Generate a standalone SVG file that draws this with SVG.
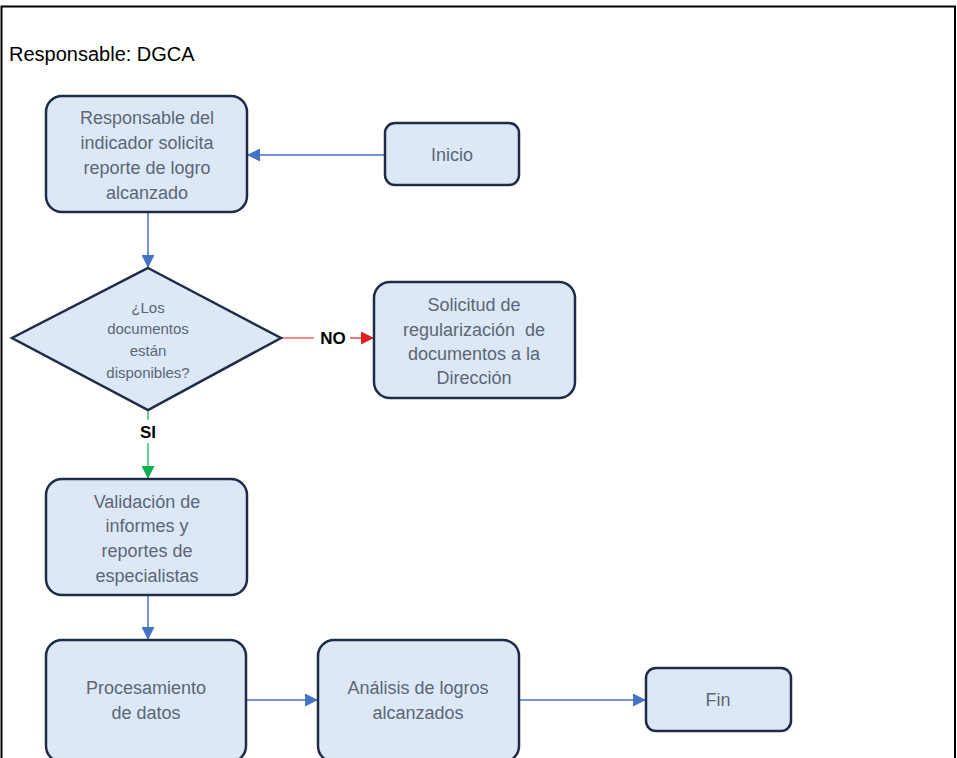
<svg xmlns="http://www.w3.org/2000/svg" width="957" height="758" viewBox="0 0 957 758">
<defs>
<style>
.box{fill:#dce8f5;stroke:#1e2c48;stroke-width:2.5}
.t{font-family:"Liberation Sans",Arial,sans-serif;font-size:18px;fill:#5b6677;text-anchor:middle;dominant-baseline:central}
.ts{font-family:"Liberation Sans",Arial,sans-serif;font-size:15px;fill:#5b6677;text-anchor:middle;dominant-baseline:central}
.lbl{font-family:"Liberation Sans",Arial,sans-serif;font-size:17px;font-weight:bold;fill:#000;text-anchor:middle;dominant-baseline:central}
.blue{stroke:#4472c4;stroke-width:1.5;fill:none}
</style>
<marker id="ab" markerWidth="13" markerHeight="13" refX="12" refY="6.5" orient="auto" markerUnits="userSpaceOnUse"><path d="M0,0 L13,6.5 L0,13 z" fill="#4472c4"/></marker>
<marker id="ar" markerWidth="13" markerHeight="13" refX="12" refY="6.5" orient="auto" markerUnits="userSpaceOnUse"><path d="M0,0 L13,6.5 L0,13 z" fill="#e02020"/></marker>
<marker id="ag" markerWidth="13" markerHeight="13" refX="12" refY="6.5" orient="auto" markerUnits="userSpaceOnUse"><path d="M0,0 L13,6.5 L0,13 z" fill="#10b050"/></marker>
</defs>
<rect x="0" y="0" width="957" height="758" fill="#fff"/>
<path d="M1.5,760 V6.5 H955 V760" fill="none" stroke="#000" stroke-width="2"/>
<text x="9" y="54" font-family="Liberation Sans,Arial,sans-serif" font-size="20" fill="#000" dominant-baseline="central">Responsable: DGCA</text>

<g id="connectors">
<line class="blue" x1="385" y1="155" x2="248" y2="155" marker-end="url(#ab)"/>
<line class="blue" x1="148" y1="212" x2="148" y2="267" marker-end="url(#ab)"/>
<line x1="281" y1="338" x2="314" y2="338" stroke="#e02020" stroke-width="1.2"/>
<line x1="350" y1="338" x2="373" y2="338" stroke="#e02020" stroke-width="1.2" marker-end="url(#ar)"/>
<text class="lbl" x="333" y="338">NO</text>
<line x1="148" y1="410" x2="148" y2="420" stroke="#10b050" stroke-width="1.2"/>
<line x1="148" y1="443" x2="148" y2="478" stroke="#10b050" stroke-width="1.2" marker-end="url(#ag)"/>
<text class="lbl" x="148" y="432">SI</text>
<line class="blue" x1="148" y1="595" x2="148" y2="639" marker-end="url(#ab)"/>
<line class="blue" x1="246" y1="700" x2="317" y2="700" marker-end="url(#ab)"/>
<line class="blue" x1="519" y1="700" x2="645" y2="700" marker-end="url(#ab)"/>
</g>

<g id="n1">
<rect class="box" x="46" y="96" width="201" height="116" rx="16"/>
<text class="t" x="147" y="118">Responsable del</text>
<text class="t" x="147" y="143">indicador solicita</text>
<text class="t" x="147" y="168">reporte de logro</text>
<text class="t" x="147" y="193">alcanzado</text>
</g>
<g id="inicio">
<rect class="box" x="385" y="123" width="134" height="62" rx="10"/>
<text class="t" x="452" y="155">Inicio</text>
</g>
<g id="decision">
<polygon class="box" points="148,268 281,338 148,410 12,338"/>
<text class="ts" x="148" y="307">¿Los</text>
<text class="ts" x="148" y="328">documentos</text>
<text class="ts" x="148" y="350">están</text>
<text class="ts" x="148" y="372">disponibles?</text>
</g>
<g id="solicitud">
<rect class="box" x="374" y="282" width="201" height="116" rx="16"/>
<text class="t" x="474" y="305">Solicitud de</text>
<text class="t" x="474" y="330" xml:space="preserve">regularización  de</text>
<text class="t" x="474" y="354">documentos a la</text>
<text class="t" x="474" y="378">Dirección</text>
</g>
<g id="validacion">
<rect class="box" x="46" y="479" width="201" height="116" rx="16"/>
<text class="t" x="147" y="502">Validación de</text>
<text class="t" x="147" y="526">informes y</text>
<text class="t" x="147" y="551">reportes de</text>
<text class="t" x="147" y="576">especialistas</text>
</g>
<g id="procesamiento">
<rect class="box" x="46" y="640" width="200" height="122" rx="16"/>
<text class="t" x="146" y="688">Procesamiento</text>
<text class="t" x="146" y="713">de datos</text>
</g>
<g id="analisis">
<rect class="box" x="318" y="640" width="201" height="122" rx="16"/>
<text class="t" x="418" y="688">Análisis de logros</text>
<text class="t" x="418" y="713">alcanzados</text>
</g>
<g id="fin">
<rect class="box" x="646" y="668" width="145" height="63" rx="10"/>
<text class="t" x="718" y="700">Fin</text>
</g>
</svg>
